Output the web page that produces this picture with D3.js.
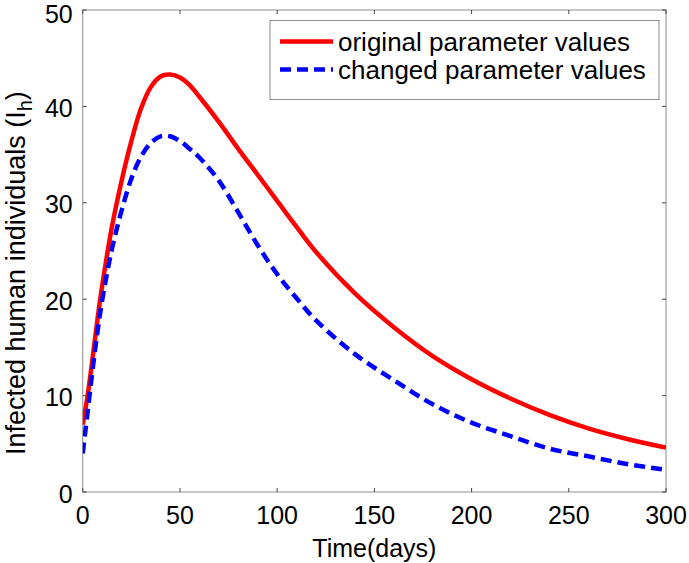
<!DOCTYPE html>
<html><head><meta charset="utf-8">
<script src="https://cdn.jsdelivr.net/npm/d3@7"></script>
<style>body{margin:0;background:#fff}svg{display:block}text{font-family:Arial,"Liberation Sans",sans-serif;fill:#000}</style>
</head><body>
<svg id="c" width="689" height="563"></svg>
<script>
const days = [0,2.5,5,7.5,10,15,20,25,30,35,40,45,50,55,60,70,80,90,100,110,120,140,160,180,200,220,240,260,280,300];
const originalValues = [7.0,10.0,13.8,17.8,21.4,27.5,32.3,36.4,39.8,42.0,43.1,43.3,43.0,42.2,41.0,38.4,35.6,32.9,30.2,27.5,24.9,20.6,17.1,14.1,11.7,9.7,8.0,6.6,5.5,4.6];
const changedValues = [4.0,8.3,12.6,16.5,19.9,25.2,29.2,32.5,34.8,36.2,36.9,36.9,36.4,35.6,34.7,32.3,29.0,25.6,22.6,20.1,17.8,14.3,11.6,9.1,7.2,5.8,4.5,3.7,2.9,2.3];
const xTicks = [0,50,100,150,200,250,300];
const yTicks = [0,10,20,30,40,50];
const seriesNames = ["original parameter values","changed parameter values"];

const svg = d3.select("#c");
const L=82.75, R=666, T=10, B=492;
const x = d3.scaleLinear().domain([0,300]).range([L,R]);
const y = d3.scaleLinear().domain([0,50]).range([B,T]);

// box
svg.append("rect").attr("x",L).attr("y",T).attr("width",R-L).attr("height",B-T)
  .attr("fill","none").attr("stroke","#8c8c8c").attr("stroke-width",1);

// ticks
const g = svg.append("g");
xTicks.forEach(v=>{
  g.append("line").attr("x1",x(v)).attr("x2",x(v)).attr("y1",B).attr("y2",B-4).attr("stroke","#444");
  g.append("line").attr("x1",x(v)).attr("x2",x(v)).attr("y1",T).attr("y2",T+4).attr("stroke","#444");
  g.append("text").attr("x",x(v)).attr("y",B+32).attr("text-anchor","middle").attr("font-size",25).text(v);
});
yTicks.forEach(v=>{
  g.append("line").attr("x1",L).attr("x2",L+4).attr("y1",y(v)).attr("y2",y(v)).attr("stroke","#444");
  g.append("line").attr("x1",R).attr("x2",R-4).attr("y1",y(v)).attr("y2",y(v)).attr("stroke","#444");
  g.append("text").attr("x",L-10).attr("y",Math.max(y(v)+10.5,23)).attr("text-anchor","end").attr("font-size",25).text(v);
});

// axis labels
svg.append("text").attr("x",(L+R)/2).attr("y",557).attr("text-anchor","middle").attr("font-size",25).text("Time(days)");
const yl = svg.append("text").attr("transform","translate(25,455) rotate(-90)")
  .attr("text-anchor","start").attr("font-size",27);
yl.append("tspan").text("Infected human individuals (I");
yl.append("tspan").attr("dy",7).attr("font-size",20).text("h");
yl.append("tspan").attr("dy",-7).text(")");

// lines
const line = d3.line().x((d,i)=>x(days[i])).y(d=>y(d)).curve(d3.curveCatmullRom.alpha(0.5));
svg.append("clipPath").attr("id","cp").append("rect").attr("x",L).attr("y",T).attr("width",R-L).attr("height",B-T);
svg.append("path").datum(originalValues).attr("d",line).attr("fill","none").attr("stroke","#ff0000").attr("stroke-width",4.5).attr("clip-path","url(#cp)");
svg.append("path").datum(changedValues).attr("d",line).attr("fill","none").attr("stroke","#0000ff").attr("stroke-width",4.5).attr("stroke-dasharray","11,6").attr("clip-path","url(#cp)");

// legend
const lg = svg.append("g");
lg.append("rect").attr("x",270).attr("y",20.5).attr("width",389).attr("height",79).attr("fill","#fff").attr("stroke","#8c8c8c");
const cols=["#ff0000","#0000ff"], dashes=[null,"11,6"], ly=[41.5,69.5];
seriesNames.forEach((n,i)=>{
  lg.append("line").attr("x1",280).attr("x2",333).attr("y1",ly[i]).attr("y2",ly[i]).attr("stroke",cols[i]).attr("stroke-width",4.5).attr("stroke-dasharray",dashes[i]);
  lg.append("text").attr("x",338).attr("y",ly[i]+9).attr("font-size",26).text(n);
});
</script>
</body></html>
